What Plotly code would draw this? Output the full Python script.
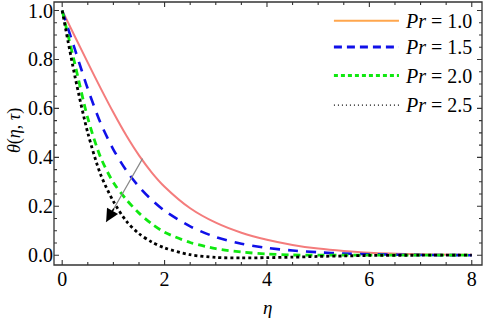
import plotly.graph_objects as go

# eta grid (shared)
eta = [0, 0.25, 0.5, 0.75, 1.0, 1.25, 1.5, 1.75, 2.0, 2.5, 3.0, 3.5, 4.0, 4.5, 5.0, 5.5, 6.0, 7.0, 8.0]

theta_pr10 = [1.0, 0.893, 0.787, 0.683, 0.583, 0.490, 0.408, 0.338, 0.280, 0.192, 0.133, 0.092, 0.063, 0.042, 0.027, 0.017, 0.010, 0.004, 0.002]
theta_pr15 = [1.0, 0.84, 0.68, 0.54, 0.432, 0.347, 0.280, 0.226, 0.182, 0.118, 0.074, 0.047, 0.030, 0.019, 0.012, 0.007, 0.004, 0.001, 0.0]
theta_pr20 = [1.0, 0.78, 0.56, 0.40, 0.297, 0.228, 0.172, 0.128, 0.094, 0.052, 0.027, 0.013, 0.005, 0.001, 0.0, 0.0, 0.0, 0.0, 0.0]
theta_pr25 = [1.0, 0.73, 0.50, 0.33, 0.22, 0.14, 0.088, 0.054, 0.030, 0.002, -0.009, -0.011, -0.010, -0.008, -0.005, -0.003, -0.001, 0.0, 0.0]

labels = ["1.0", "1.5", "2.0", "2.5"]

# tick values
x_major = [0, 2, 4, 6, 8]
x_minor = [i * 0.5 for i in range(17) if i % 4 != 0]
y_major = [0.0, 0.2, 0.4, 0.6, 0.8, 1.0]
y_minor = [round(i * 0.05, 2) for i in range(21) if i % 4 != 0]

# arrow (direction of increasing Pr), in data units
arrow_tail = (1.586, 0.401)
arrow_tip = (0.859, 0.136)

FONT = "Liberation Serif"
FRAME = "#333333"

W, H = 484, 319
ML, MR, MT, MB = 54, 2, 2, 54
PW, PH = W - ML - MR, H - MT - MB

series = [
    (theta_pr10, "#F47C7C", "solid", 2.0),
    (theta_pr15, "#1010E8", "10px,8px", 2.6),
    (theta_pr20, "#10E810", "7px,5px", 2.8),
    (theta_pr25, "#000000", "3px,3px", 2.8),
]

fig = go.Figure()
for (vals, col, dash, w), lab in zip(series, labels):
    fig.add_trace(go.Scatter(x=eta, y=vals, mode="lines", name="Pr = " + lab,
                             line=dict(color=col, dash=dash, width=w, shape="spline", smoothing=0.8),
                             showlegend=False))

# frame
fig.add_shape(type="rect", xref="paper", yref="paper", x0=0, x1=1, y0=0, y1=1,
              line=dict(color=FRAME, width=1.3), fillcolor="rgba(0,0,0,0)", layer="above")

# inside ticks on all four sides (positions from tick value lists)
def xtick_path(vals, length_px):
    L = length_px / PH
    return "".join(f"M{v},0L{v},{L}M{v},1L{v},{1 - L}" for v in vals)

def ytick_path(vals, length_px):
    L = length_px / PW
    return "".join(f"M0,{v}L{L},{v}M1,{v}L{1 - L},{v}" for v in vals)

fig.add_shape(type="path", xref="x", yref="paper", path=xtick_path(x_major, 5),
              line=dict(color=FRAME, width=1.1), layer="above")
fig.add_shape(type="path", xref="x", yref="paper", path=xtick_path(x_minor, 3),
              line=dict(color=FRAME, width=1.1), layer="above")
fig.add_shape(type="path", xref="paper", yref="y", path=ytick_path(y_major, 5),
              line=dict(color=FRAME, width=1.1), layer="above")
fig.add_shape(type="path", xref="paper", yref="y", path=ytick_path(y_minor, 3),
              line=dict(color=FRAME, width=1.1), layer="above")

# manual legend (line samples + text)
leg_style = [("#FFA64D", "solid", 2.0), ("#1010E8", "8px,5px", 3.0),
             ("#10E810", "4px,3px", 3.0), ("#000000", "1px,3px", 1.2)]
leg_y = [0.929, 0.829, 0.7205, 0.608]
for (col, dash, w), yy, lab in zip(leg_style, leg_y, labels):
    fig.add_shape(type="line", xref="paper", yref="paper", x0=0.654, x1=0.806, y0=yy, y1=yy,
                  line=dict(color=col, dash=dash, width=w))
    fig.add_annotation(xref="paper", yref="paper", x=0.816, y=yy, xanchor="left", yanchor="middle",
                       text="<i>Pr</i> = " + lab, showarrow=False,
                       font=dict(family=FONT, size=20, color="black"))

# arrow: gray shaft + black head
fig.add_annotation(x=arrow_tip[0], y=arrow_tip[1], ax=arrow_tail[0], ay=arrow_tail[1],
                   axref="x", ayref="y", xref="x", yref="y", text="", showarrow=True,
                   arrowhead=0, arrowwidth=1.2, arrowcolor="#888888")
fig.add_annotation(x=arrow_tip[0], y=arrow_tip[1], ax=8.5, ay=-14.7, text="", showarrow=True,
                   arrowhead=2, arrowsize=1.7, arrowwidth=1.5, arrowcolor="#000000")

# axis titles
fig.add_annotation(xref="paper", yref="paper", x=-0.0935, y=0.513, text="<i>θ</i>(<i>η</i>, <i>τ</i>)",
                   textangle=-90, showarrow=False, xanchor="center", yanchor="middle",
                   font=dict(family=FONT, size=18, color="black"))
fig.add_annotation(xref="paper", yref="paper", x=0.498, y=-0.163, text="<i>η</i>",
                   showarrow=False, xanchor="center", yanchor="middle",
                   font=dict(family=FONT, size=19, color="black"))

fig.update_xaxes(range=[-0.16, 8.2], tickmode="array", tickvals=x_major,
                 showline=False, ticks="", showgrid=False, zeroline=False,
                 automargin=False, ticklabeloverflow="allow",
                 tickfont=dict(family=FONT, size=20, color="black"))
fig.update_yaxes(range=[-0.04, 1.035], tickmode="array", tickvals=y_major, tickformat=".1f",
                 showline=False, ticks="", showgrid=False, zeroline=False,
                 automargin=False, ticklabeloverflow="allow",
                 tickfont=dict(family=FONT, size=20, color="black"))

fig.update_layout(width=W, height=H, margin=dict(l=ML, r=MR, t=MT, b=MB),
                  plot_bgcolor="white", paper_bgcolor="white", showlegend=False)

fig.write_html("out.html", config={"displayModeBar": False},
               post_script="document.body.style.margin='0';")
